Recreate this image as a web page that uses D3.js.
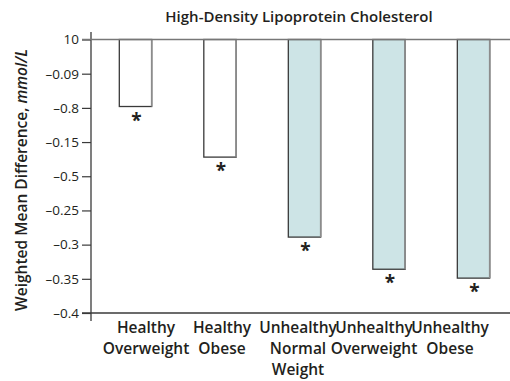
<!DOCTYPE html>
<html>
<head>
<meta charset="utf-8">
<script src="https://cdn.jsdelivr.net/npm/d3@7"></script>
<style>
  body { margin: 0; background: #fff; }
  text { font-family: "Open Sans", "Noto Sans", sans-serif; fill: #231f20; }
</style>
</head>
<body>
<svg id="chart" width="510" height="381"></svg>
<script>
// data
var groups = ["Healthy Overweight", "Healthy Obese", "Unhealthy Normal Weight", "Unhealthy Overweight", "Unhealthy Obese"];
var groupLines = [["Healthy", "Overweight"], ["Healthy", "Obese"], ["Unhealthy", "Normal", "Weight"], ["Unhealthy", "Overweight"], ["Unhealthy", "Obese"]];
var values = [-0.098, -0.172, -0.289, -0.336, -0.349];
var unhealthy = [false, false, true, true, true];
var tickValues = [0, -0.05, -0.1, -0.15, -0.2, -0.25, -0.3, -0.35, -0.4];
var tickLabels = ["10", "\u20130.09", "\u20130.8", "\u20130.15", "\u20130.5", "\u20130.25", "\u20130.3", "\u20130.35", "\u20130.4"];

var svg = d3.select("#chart");

var yScale = d3.scaleLinear().domain([0, -0.4]).range([39.5, 313]);
var xScale = d3.scaleBand().domain(groups).range([91, 518])
  .paddingInner(0.617).paddingOuter(0.335);
// category labels sit on their own spacing
var labelScale = d3.scaleBand().domain(groups).range([108, 488]).padding(0);

// bars
var bars = svg.selectAll(".bar")
  .data(groups)
  .enter()
  .append("g")
  .attr("class", "bar");

bars.append("rect")
  .attr("x", function(d) { return xScale(d); })
  .attr("y", yScale(0))
  .attr("width", xScale.bandwidth())
  .attr("height", function(d, i) { return yScale(values[i]) - yScale(0); })
  .attr("fill", function(d, i) { return unhealthy[i] ? "#cde4e6" : "#ffffff"; })
  .attr("stroke", "#3a3a3a")
  .attr("stroke-width", 1.3);

// right edge looks lighter
bars.append("line")
  .attr("x1", function(d) { return xScale(d) + xScale.bandwidth(); })
  .attr("x2", function(d) { return xScale(d) + xScale.bandwidth(); })
  .attr("y1", yScale(0))
  .attr("y2", function(d, i) { return yScale(values[i]); })
  .attr("stroke", "#8c8c8c")
  .attr("stroke-width", 1.6);

// asterisks
bars.append("text")
  .attr("x", function(d) { return xScale(d) + xScale.bandwidth() / 2 + 1; })
  .attr("y", function(d, i) { return yScale(values[i]) + 20; })
  .attr("text-anchor", "middle")
  .style("font-size", "19px")
  .style("font-weight", "700")
  .text("*");

// y axis
var yAxis = d3.axisLeft(yScale)
  .tickValues(tickValues)
  .tickSize(9)
  .tickPadding(3)
  .tickFormat(function(d, i) { return tickLabels[i]; });

var gy = svg.append("g")
  .attr("transform", "translate(91,0)")
  .call(yAxis);
gy.select(".domain").remove();
gy.selectAll(".tick line").attr("stroke", "#3a3a3a").attr("stroke-width", 1.2);
gy.selectAll(".tick text")
  .style("font-size", "13.5px")
  .style("font-family", "'Open Sans', sans-serif")
  .attr("fill", "#231f20");

svg.append("line")
  .attr("x1", 91).attr("x2", 91)
  .attr("y1", 32).attr("y2", 321)
  .attr("stroke", "#3a3a3a").attr("stroke-width", 1.3);

// top (zero) and bottom lines
svg.selectAll(".hline")
  .data([0, -0.4])
  .enter()
  .append("line")
  .attr("class", "hline")
  .attr("x1", 82).attr("x2", 510)
  .attr("y1", function(d) { return yScale(d); })
  .attr("y2", function(d) { return yScale(d); })
  .attr("stroke", function(d) { return d === 0 ? "#777" : "#3a3a3a"; })
  .attr("stroke-width", 1.3);

// category labels
var labels = svg.selectAll(".cat")
  .data(groups)
  .enter()
  .append("text")
  .attr("class", "cat")
  .attr("text-anchor", "middle")
  .style("font-size", "15.5px")
  .style("font-weight", "600");

labels.selectAll("tspan")
  .data(function(d, i) { return groupLines[i].map(function(t) { return { t: t, g: d }; }); })
  .enter()
  .append("tspan")
  .attr("x", function(d) { return labelScale(d.g) + labelScale.bandwidth() / 2; })
  .attr("y", function(d, j) { return 333 + j * 20.8; })
  .text(function(d) { return d.t; });

// title
svg.append("text")
  .attr("x", 299)
  .attr("y", 22)
  .attr("text-anchor", "middle")
  .style("font-size", "15px")
  .style("font-weight", "600")
  .text("High-Density Lipoprotein Cholesterol");

// y axis title
var yt = svg.append("text")
  .attr("transform", "translate(27,180) rotate(-90)")
  .attr("text-anchor", "middle")
  .style("font-size", "15.5px")
  .style("font-weight", "600");
yt.append("tspan").text("Weighted Mean Difference, ");
yt.append("tspan").style("font-style", "italic").text("mmol/L");
</script>
</body>
</html>
